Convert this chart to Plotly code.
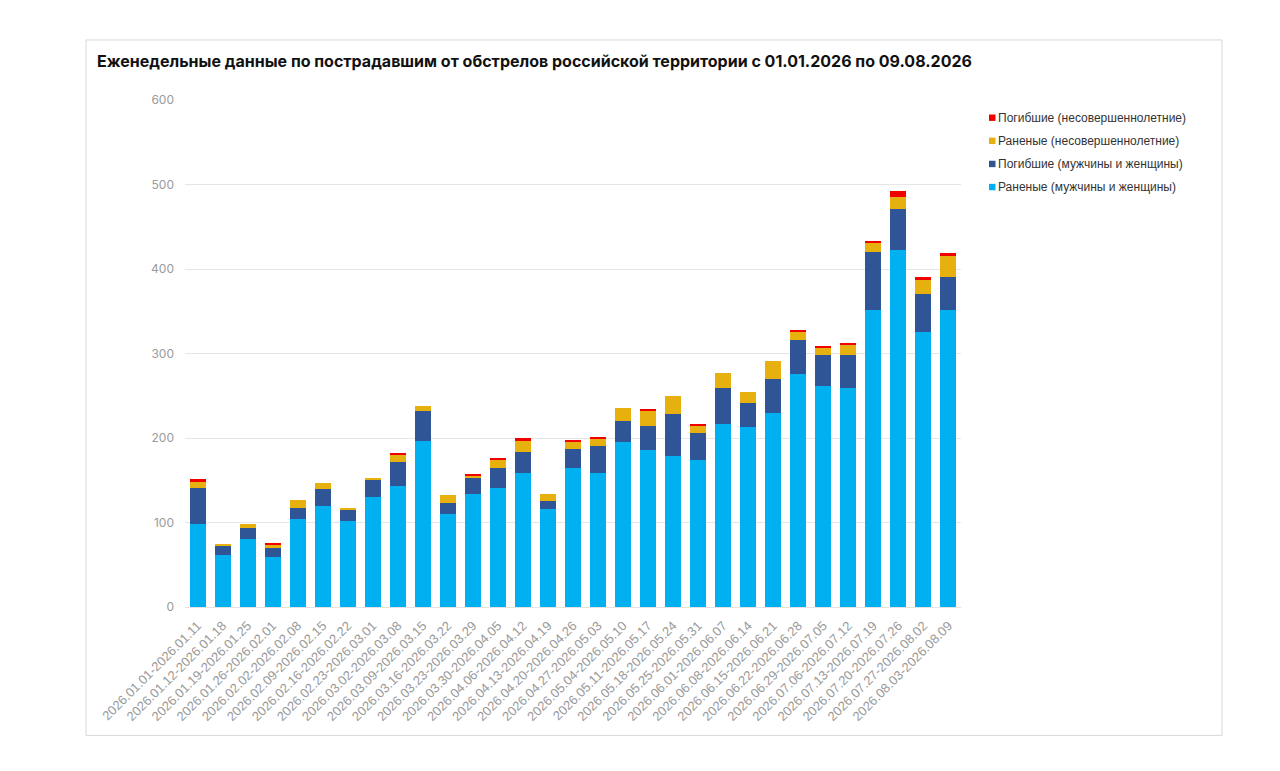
import plotly.graph_objects as go

weeks = [
    "2026.01.01-2026.01.11", "2026.01.12-2026.01.18", "2026.01.19-2026.01.25",
    "2026.01.26-2026.02.01", "2026.02.02-2026.02.08", "2026.02.09-2026.02.15",
    "2026.02.16-2026.02.22", "2026.02.23-2026.03.01", "2026.03.02-2026.03.08",
    "2026.03.09-2026.03.15", "2026.03.16-2026.03.22", "2026.03.23-2026.03.29",
    "2026.03.30-2026.04.05", "2026.04.06-2026.04.12", "2026.04.13-2026.04.19",
    "2026.04.20-2026.04.26", "2026.04.27-2026.05.03", "2026.05.04-2026.05.10",
    "2026.05.11-2026.05.17", "2026.05.18-2026.05.24", "2026.05.25-2026.05.31",
    "2026.06.01-2026.06.07", "2026.06.08-2026.06.14", "2026.06.15-2026.06.21",
    "2026.06.22-2026.06.28", "2026.06.29-2026.07.05", "2026.07.06-2026.07.12",
    "2026.07.13-2026.07.19", "2026.07.20-2026.07.26", "2026.07.27-2026.08.02",
    "2026.08.03-2026.08.09",
]

wounded_adults = [98, 61, 80, 59, 104, 120, 102, 130, 143, 196, 110, 134, 141, 158, 116,
                  165, 158, 195, 186, 179, 174, 216, 213, 230, 276, 262, 259, 352, 422, 326, 352]
killed_adults = [43, 11, 14, 11, 13, 20, 13, 21, 29, 36, 13, 19, 23, 26, 9,
                 22, 32, 25, 28, 50, 32, 43, 29, 40, 40, 36, 39, 68, 49, 45, 39]
wounded_minors = [7, 3, 4, 4, 10, 7, 2, 1, 8, 6, 10, 3, 10, 13, 9,
                  9, 9, 15, 18, 21, 8, 18, 12, 21, 9, 9, 13, 11, 14, 16, 24]
killed_minors = [3, 0, 0, 2, 0, 0, 0, 0, 2, 0, 0, 1, 2, 3, 0,
                 2, 2, 0, 2, 0, 3, 0, 0, 0, 3, 1, 2, 2, 7, 4, 4]

series_names = [
    "Раненые (мужчины и женщины)",
    "Погибшие (мужчины и женщины)",
    "Раненые (несовершеннолетние)",
    "Погибшие (несовершеннолетние)",
]
series_values = [wounded_adults, killed_adults, wounded_minors, killed_minors]
series_colors = ["#00B0F0", "#2F5597", "#E6B00E", "#F20000"]

title_text = "Еженедельные данные по пострадавшим от обстрелов российской территории с 01.01.2026 по 09.08.2026"

fig = go.Figure()
for name, vals, col in zip(series_names, series_values, series_colors):
    fig.add_trace(go.Bar(x=weeks, y=vals, name=name, showlegend=False,
                         marker=dict(color=col, line=dict(width=0))))

OFF = 8  # page body margin
W, H = 1280 - 2 * OFF, 771 - 2 * OFF
L, R, T, B = 185 - OFF, 961 - OFF, 100 - OFF, 606.7 - OFF
pw, ph = R - L, B - T


def px(x):
    return (x - OFF - L) / pw


def py(y):
    return (B - (y - OFF)) / ph


shapes = [
    dict(type="rect", xref="paper", yref="paper",
         x0=px(86), x1=px(1222), y0=py(735), y1=py(40),
         line=dict(color="#d9d9d9", width=1), fillcolor="rgba(0,0,0,0)", layer="below"),
]
annotations = [
    dict(text="<b>" + title_text + "</b>", xref="paper", yref="paper",
         x=px(95), y=py(61), xanchor="left", yanchor="middle", showarrow=False,
         font=dict(size=16, color="#111111", family="Inter, Roboto, sans-serif")),
]

# manual legend (reversed order, like the stacked legend)
leg_x, leg_y0, leg_dy = 989, 117.7, 23.1
for i, (name, col) in enumerate(zip(series_names[::-1], series_colors[::-1])):
    cy = leg_y0 + i * leg_dy
    shapes.append(dict(type="rect", xref="paper", yref="paper",
                       x0=px(leg_x), x1=px(leg_x + 6.5), y0=py(cy + 3.2), y1=py(cy - 3.2),
                       line=dict(width=0), fillcolor=col))
    annotations.append(dict(text=name, xref="paper", yref="paper",
                            x=px(leg_x + 7), y=py(cy), xanchor="left", yanchor="middle",
                            showarrow=False,
                            font=dict(size=12, color="#333333",
                                      family="Liberation Sans, Arial, sans-serif")))

fig.update_layout(
    width=W, height=H,
    barmode="stack",
    bargap=0.36,
    margin=dict(l=L, r=W - R, t=T, b=H - B, autoexpand=False),
    paper_bgcolor="white",
    plot_bgcolor="white",
    font=dict(family="Inter, Roboto, sans-serif", color="#333333"),
    showlegend=False,
    xaxis=dict(
        type="category",
        tickangle=-45,
        tickfont=dict(size=13, color="#9a9a9a", family="Liberation Sans, Arial, sans-serif"),
        showgrid=False,
        showline=True,
        linecolor="#e3e3e3",
        linewidth=1,
        ticks="",
        ticklabelstandoff=5,
        range=[-0.5, len(weeks) - 0.5],
    ),
    yaxis=dict(
        range=[0, 600],
        dtick=100,
        tickfont=dict(size=12, color="#9a9a9a"),
        gridcolor="#e6e6e6",
        gridwidth=1,
        zeroline=False,
        showline=False,
        ticks="",
        ticklabelstandoff=10,
    ),
    shapes=shapes,
    annotations=annotations,
)

fig.write_html("out.html")
